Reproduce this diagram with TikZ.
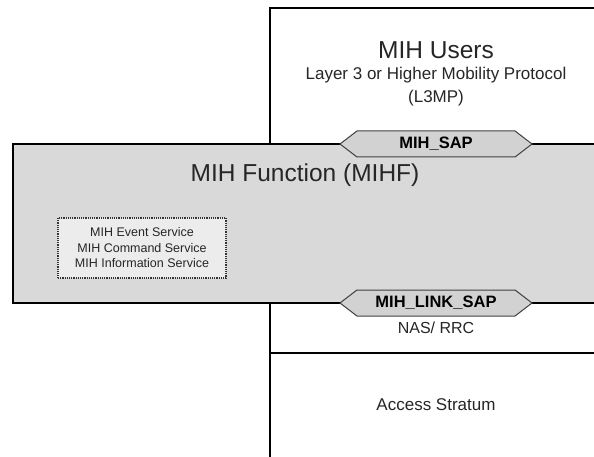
\documentclass[tikz,border=0pt]{standalone}
\usepackage{fontspec}
\setmainfont{Liberation Sans}
\usetikzlibrary{shapes.symbols}
\definecolor{mihgray}{RGB}{217,217,217}
\definecolor{sapgray}{RGB}{210,210,210}
\definecolor{svcgray}{RGB}{236,236,236}
\begin{document}
\begin{tikzpicture}[x=1pt,y=-1pt,line width=1.6pt,
  sap/.style={signal,signal to=east and west,signal pointer angle=75,draw=black!75,line width=1pt,fill=sapgray,minimum width=192pt,minimum height=26pt,inner sep=0pt,font=\fontsize{16.5}{16.5}\selectfont\bfseries},
  txt/.style={font=\fontsize{17}{17}\selectfont,text=black!85},
  big/.style={font=\fontsize{24.5}{24.5}\selectfont,text=black!85}]
\clip (0,0) rectangle (594,457);
\coordinate (UL) at (270,8);
\coordinate (UR) at (594,8);
\coordinate (FL) at (13,144);
\coordinate (FR) at (596,303);
\coordinate (FB) at (270,303);
\coordinate (AL) at (270,353);
\coordinate (AR) at (594,353);
\coordinate (AB) at (270,457);

\filldraw[fill=mihgray] (FL) rectangle (FR);
\draw (UR) -- (UL) -- (UL |- FL);
\draw (FB) -- (AB);
\draw (AL) -- (AR);

\node[big] (users) at (436,50) {MIH Users};
\node[txt] (l3mp) at (436,75) {Layer 3 or Higher Mobility Protocol};
\node[txt] (l3mpb) at (436,98) {(L3MP)};
\node[big] (mihf) at (305,175) {MIH Function (MIHF)};
\node[draw=black!80,densely dotted,line width=1.2pt,fill=svcgray,minimum width=168pt,minimum height=60pt,align=center,font=\fontsize{12.5}{15.5}\selectfont,text=black!85] (svc) at (142,248)
  {MIH Event Service\\MIH Command Service\\MIH Information Service};
\node[sap] (sap) at (436,144) {MIH\_SAP};
\node[sap] (linksap) at (436,303) {MIH\_LINK\_SAP};
\node[txt,font=\fontsize{16}{16}\selectfont] (nas) at (436,328) {NAS/ RRC};
\node[txt] (as) at (436,405) {Access Stratum};
\end{tikzpicture}
\end{document}
